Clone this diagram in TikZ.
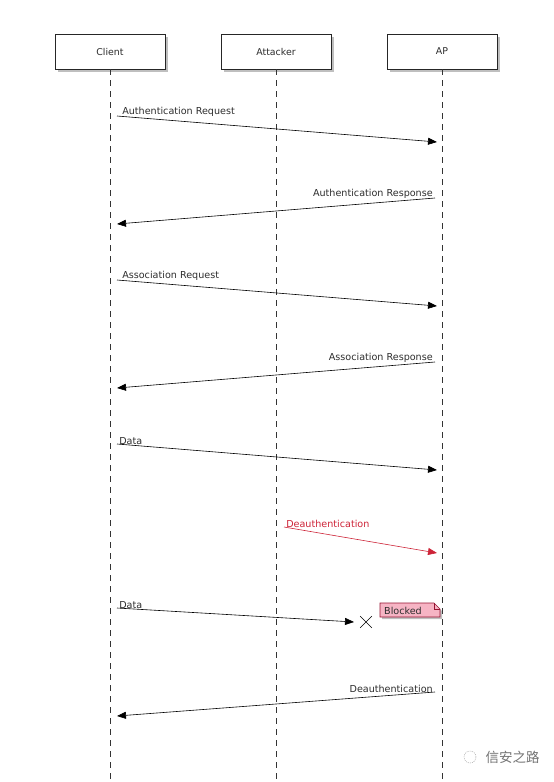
\documentclass[tikz,border=0pt]{standalone}
\usepackage{fontspec}
\setmainfont{DejaVu Sans}
\newfontfamily\cjkfont{Noto Sans CJK SC}
\usetikzlibrary{arrows.meta,shadows,shapes.misc,positioning}
\definecolor{deauthred}{RGB}{205,35,55}
\definecolor{notepink}{RGB}{246,180,196}
\definecolor{noteline}{RGB}{150,20,50}
\definecolor{ink}{RGB}{45,45,45}
\tikzset{
	actor/.style={draw=black!85, fill=white, line width=.8pt, minimum width=110pt, minimum height=35pt,
		drop shadow={shadow xshift=2.5pt, shadow yshift=-2.5pt, opacity=.5}, text=ink, font=\fontsize{9.4}{11}\selectfont},
	life/.style={black!80, line width=.7pt, dash pattern=on 6pt off 5pt},
	msg/.style={line width=.6pt, -{Triangle[length=9pt,width=7pt]}},
	lbl/.style={text=ink, font=\fontsize{9.6}{11}\selectfont, inner sep=1pt},
	msglbl/.style={lbl, yshift=-2pt}
}
\begin{document}
\begin{tikzpicture}[x=1pt,y=-1pt]
	\useasboundingbox (0,0) rectangle (554,782);
	% participants
	\node[actor] (client) at (110,51.5) {Client};
	\node[actor] (attacker) at (276,51.5) {Attacker};
	\node[actor] (ap) at (442,51.5) {AP};
	\draw[life] (client.south) -- (client.south |- 0,782);
	\draw[life] (attacker.south) -- (attacker.south |- 0,782);
	\draw[life] (ap.south) -- (ap.south |- 0,782);
	% authentication
	\coordinate (authreq) at (117,116); \coordinate (authreqend) at (437,142);
	\draw[msg] (authreq) node[msglbl, anchor=south west, xshift=4pt]{Authentication Request} -- (authreqend);
	\coordinate (authresp) at (435,198); \coordinate (authrespend) at (117,224);
	\draw[msg] (authresp) node[msglbl, anchor=south east, xshift=-1pt]{Authentication Response} -- (authrespend);
	% association
	\coordinate (assreq) at (117,280); \coordinate (assreqend) at (437,306);
	\draw[msg] (assreq) node[msglbl, anchor=south west, xshift=4pt]{Association Request} -- (assreqend);
	\coordinate (assresp) at (435,362); \coordinate (assrespend) at (117,388);
	\draw[msg] (assresp) node[msglbl, anchor=south east, xshift=-1pt]{Association Response} -- (assrespend);
	% data
	\coordinate (data) at (117,444); \coordinate (dataend) at (437,470);
	\draw[msg] (data) node[msglbl, anchor=south west, xshift=1pt]{Data} -- (dataend);
	% forged deauth
	\coordinate (deauth) at (284,527); \coordinate (deauthend) at (437,553);
	\draw[msg, deauthred] (deauth) node[msglbl, text=deauthred, anchor=south west, xshift=1pt]{Deauthentication} -- (deauthend);
	% data lost
	\node[cross out, draw, line width=.6pt, minimum size=11pt, inner sep=0pt] (lost) at (366,622) {};
	\coordinate (data2) at (117,608); \coordinate (data2end) at (354,622);
	\draw[msg] (data2) node[msglbl, anchor=south west, xshift=1pt]{Data} -- (data2end);
	\draw[noteline, fill=notepink, line width=.6pt, drop shadow={shadow xshift=2pt, shadow yshift=-2pt, opacity=.5}]
		(380,603) -- (434,603) -- (440,609) -- (440,617) -- (380,617) -- cycle;
	\draw[noteline, line width=.6pt] (434,603) -- (434,609) -- (440,609);
	\node[lbl, anchor=west] (blocked) at (383,610.5) {Blocked};
	% deauth to client
	\coordinate (deauth2) at (435,692); \coordinate (deauth2end) at (117,716);
	\draw[msg] (deauth2) node[msglbl, anchor=south east, xshift=-1pt]{Deauthentication} -- (deauth2end);
	% watermark
	\draw[black!35, line width=.5pt, dash pattern=on 1pt off 1pt] (470,757) circle (6pt);
	\node[black!55, font=\cjkfont\fontsize{13.5}{15}\selectfont, anchor=west] (mark) at (482,757) {信安之路};
\end{tikzpicture}
\end{document}
